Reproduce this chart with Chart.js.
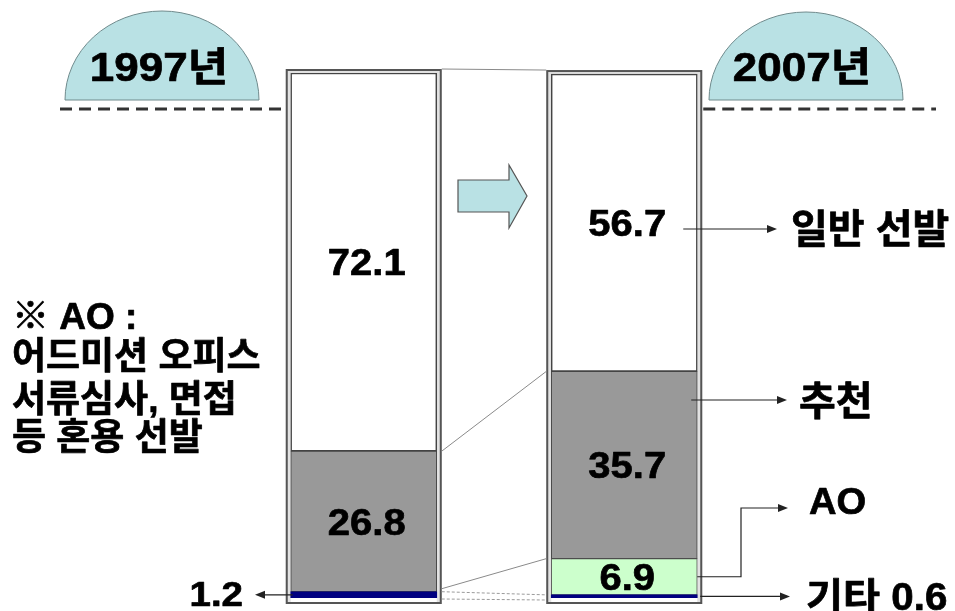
<!DOCTYPE html>
<html>
<head>
<meta charset="utf-8">
<script src="https://cdn.jsdelivr.net/npm/chart.js@4/dist/chart.umd.min.js"></script>
<style>
  html, body { margin: 0; padding: 0; background: #fff; overflow: hidden; }
  #wrap { position: relative; width: 955px; height: 611px; }
</style>
</head>
<body>
<div id="wrap"><canvas id="c" width="955" height="611"></canvas></div>
<script>
// 대학 입학 선발 방식 구성비 (%)
const years      = ['1997년', '2007년'];
const seriesName = ['기타', 'AO', '추천', '일반 선발'];
const other      = [1.2, 0.6];    // 기타
const ao         = [null, 6.9];   // AO (1997년 없음)
const recommend  = [26.8, 35.7];  // 추천
const general    = [72.1, 56.7];  // 일반 선발
const noteLines  = ['※ AO :', '어드미션 오피스', '서류심사, 면접', '등 혼용 선발'];

const FONT = "'Liberation Sans', 'Noto Sans CJK KR', Arial, sans-serif";
const DOME_FILL = '#b9e1e4';

// heavy bold text centred vertically on cy, optionally stretched horizontally by sx
function txt(ctx, s, x, cy, size, align, sx) {
  sx = sx || 1;
  ctx.save();
  ctx.font = 'bold ' + size + 'px ' + FONT;
  ctx.textAlign = align || 'left';
  ctx.textBaseline = 'alphabetic';
  ctx.fillStyle = '#000';
  ctx.strokeStyle = '#000';
  ctx.lineWidth = 0.7;
  ctx.lineJoin = 'round';
  ctx.translate(x, cy + size * 0.36);
  ctx.scale(sx, 1);
  ctx.fillText(s, 0, 0);
  ctx.strokeText(s, 0, 0);
  ctx.restore();
}

function head(ctx, x, y, dir) {
  ctx.beginPath();
  ctx.moveTo(x, y);
  ctx.lineTo(x - dir * 10, y - 4);
  ctx.lineTo(x - dir * 10, y + 4);
  ctx.closePath();
  ctx.fill();
}

function seg(chart, d, i) {
  const el = chart.getDatasetMeta(d).data[i];
  return { top: el.y, bot: el.base, mid: (el.y + el.base) / 2, L: el.x - el.width / 2, R: el.x + el.width / 2, x: el.x };
}

function boxes(chart) {
  return years.map((_, i) => {
    const b = seg(chart, 0, i), t = seg(chart, 3, i);
    return { L: b.L, R: b.R, T: t.top, B: b.bot, x: b.x };
  });
}

function dome(ctx, cx, by, rx, ry) {
  ctx.beginPath();
  ctx.ellipse(cx, by, rx, ry, 0, Math.PI, 2 * Math.PI);
  ctx.closePath();
  ctx.fillStyle = DOME_FILL;
  ctx.fill();
  ctx.strokeStyle = '#6f8a8c';
  ctx.lineWidth = 1;
  ctx.stroke();
}

const decor = {
  id: 'decor',
  beforeDatasetsDraw(chart) {
    const ctx = chart.ctx;
    const bx = boxes(chart);
    ctx.save();
    // double frame around each bar
    bx.forEach(f => {
      const x0 = f.L - 5, y0 = f.T - 4, x1 = f.R + 5, y1 = f.B + 6;
      ctx.fillStyle = '#e2e2e2';
      ctx.fillRect(x0, y0, x1 - x0, y1 - y0);
      ctx.fillStyle = '#fff';
      ctx.fillRect(f.L, f.B, f.R - f.L, 4);
      ctx.strokeStyle = '#555';
      ctx.lineWidth = 2;
      ctx.strokeRect(x0 + 1, y0 + 1, x1 - x0 - 2, y1 - y0 - 2);
    });
    const [a, b] = bx;
    const aR = a.R + 5, bL = b.L - 5;
    // connectors between the two bars
    ctx.strokeStyle = '#8a8a8a';
    ctx.lineWidth = 1;
    ctx.beginPath();
    ctx.moveTo(aR, a.T - 4); ctx.lineTo(bL, b.T - 4);
    ctx.moveTo(aR, seg(chart, 2, 0).top); ctx.lineTo(bL, seg(chart, 2, 1).top);
    ctx.moveTo(aR, seg(chart, 0, 0).top - 3); ctx.lineTo(bL, seg(chart, 1, 1).top);
    ctx.stroke();
    ctx.setLineDash([3, 2]);
    ctx.strokeStyle = '#9a9a9a';
    ctx.beginPath();
    ctx.moveTo(aR, seg(chart, 0, 0).top); ctx.lineTo(bL, seg(chart, 0, 1).top);
    ctx.moveTo(aR, a.B + 1); ctx.lineTo(bL, b.B + 2);
    ctx.stroke();
    ctx.restore();
  },
  afterDatasetsDraw(chart) {
    const ctx = chart.ctx;
    const bx = boxes(chart);
    const [a, b] = bx;
    ctx.save();

    // year domes and dashed base lines
    dome(ctx, 162, 100, 97, 89);
    dome(ctx, 806, 100, 97, 88);
    txt(ctx, years[0], 159, 67, 40, 'center', 1.1);
    txt(ctx, years[1], 802, 67, 40, 'center', 1.1);
    ctx.strokeStyle = '#333';
    ctx.lineWidth = 3;
    ctx.setLineDash([12, 7]);
    ctx.beginPath();
    ctx.moveTo(60, 109); ctx.lineTo(a.L - 5, 109);
    ctx.moveTo(b.R + 6, 109); ctx.lineTo(936, 109);
    ctx.stroke();
    ctx.setLineDash([]);

    // block arrow between the bars
    const mx = (a.R + b.L) / 2 - 1, my = 196;
    ctx.beginPath();
    ctx.moveTo(mx - 35, my - 16);
    ctx.lineTo(mx + 16, my - 16);
    ctx.lineTo(mx + 16, my - 31);
    ctx.lineTo(mx + 34, my);
    ctx.lineTo(mx + 16, my + 32);
    ctx.lineTo(mx + 16, my + 16);
    ctx.lineTo(mx - 35, my + 16);
    ctx.closePath();
    ctx.fillStyle = DOME_FILL;
    ctx.fill();
    ctx.strokeStyle = '#555';
    ctx.lineWidth = 1.2;
    ctx.stroke();

    // value labels inside the segments
    const values = [other, ao, recommend, general];
    [1, 2, 3].forEach(d => {
      years.forEach((_, i) => {
        const v = values[d][i];
        if (v == null) return;
        const s = seg(chart, d, i);
        txt(ctx, v.toFixed(1), s.x + 3, s.mid, 37, 'center', 1.08);
      });
    });

    // 1997 기타 label on the left
    ctx.strokeStyle = '#222';
    ctx.fillStyle = '#222';
    ctx.lineWidth = 1.2;
    const n0 = seg(chart, 0, 0);
    ctx.beginPath();
    ctx.moveTo(a.L + 2, n0.mid); ctx.lineTo(258, n0.mid);
    ctx.stroke();
    head(ctx, 255, n0.mid, -1);
    txt(ctx, other[0].toFixed(1), 243, n0.mid - 1, 35, 'right', 1.1);

    // 2007 series labels on the right
    const o = seg(chart, 1, 1), e = seg(chart, 0, 1);
    ctx.strokeStyle = '#222';
    ctx.fillStyle = '#222';
    ctx.lineWidth = 1.2;
    ctx.beginPath();
    ctx.moveTo(b.R - 14, 229); ctx.lineTo(774, 229);
    ctx.moveTo(b.R - 6, 400); ctx.lineTo(784, 400);
    ctx.moveTo(b.R, o.mid); ctx.lineTo(741, o.mid); ctx.lineTo(741, 508); ctx.lineTo(785, 508);
    ctx.moveTo(b.R + 3, e.mid); ctx.lineTo(787, e.mid);
    ctx.stroke();
    head(ctx, 777, 229, 1);
    head(ctx, 787, 400, 1);
    head(ctx, 788, 508, 1);
    head(ctx, 790, e.mid, 1);
    txt(ctx, seriesName[3], 791, 229, 40, 'left');
    txt(ctx, seriesName[2], 799, 401, 40, 'left');
    txt(ctx, seriesName[1], 809, 501, 36, 'left', 1.06);
    txt(ctx, seriesName[0] + ' ' + other[1].toFixed(1), 806, 596, 38, 'left', 1.06);

    // AO 설명
    const ny = [316, 356, 399, 437];
    noteLines.forEach((s, k) => txt(ctx, s, 12, ny[k], 37, 'left'));

    ctx.restore();
  }
};

new Chart(document.getElementById('c').getContext('2d'), {
  type: 'bar',
  data: {
    labels: years,
    datasets: [
      { label: seriesName[0], data: other,     backgroundColor: '#000080', borderColor: '#000050', borderWidth: 0 },
      { label: seriesName[1], data: ao,        backgroundColor: '#ccffcc', borderColor: '#555', borderWidth: 1, borderSkipped: false },
      { label: seriesName[2], data: recommend, backgroundColor: '#999999', borderColor: '#444', borderWidth: 1, borderSkipped: false },
      { label: seriesName[3], data: general,   backgroundColor: '#ffffff', borderColor: '#444', borderWidth: 1.5, borderSkipped: false }
    ]
  },
  options: {
    responsive: false,
    animation: false,
    devicePixelRatio: 1,
    layout: { padding: { left: 233.5, right: 200.5, top: 73, bottom: 13 } },
    datasets: { bar: { barThickness: 146 } },
    scales: {
      x: { display: false, stacked: true },
      y: { display: false, stacked: true, min: 0, max: 100.1 }
    },
    plugins: { legend: { display: false }, tooltip: { enabled: false } }
  },
  plugins: [decor]
});
</script>
</body>
</html>
